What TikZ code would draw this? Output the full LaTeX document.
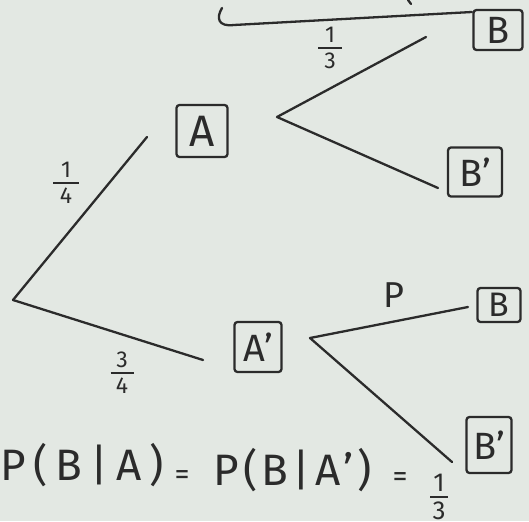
\documentclass[tikz,border=0pt]{standalone}
\usepackage{fontspec}
\setmainfont{Fira Sans}
\definecolor{bg}{HTML}{E3E8E3}
\definecolor{ink}{HTML}{2B2B2B}
\tikzset{
  ln/.style={draw=ink, line width=2.3pt, line cap=round, line join=round},
  lbox/.style={draw=ink, line width=2.3pt, rounded corners=3pt, inner sep=0pt, text=ink,
    font=\fontsize{38}{38}\selectfont},
  fr/.style={text=ink, inner sep=0pt, font=\fontsize{23}{23}\selectfont},
  eq/.style={text=ink, inner sep=0pt, anchor=base west, font=\fontsize{44}{44}\selectfont\addfontfeature{LetterSpace=18}},
  eqs/.style={text=ink, inner sep=0pt, anchor=base, font=\fontsize{30}{30}\selectfont}
}
\newcommand{\hfr}[3]{\vbox{\offinterlineskip\halign{\hfil##\hfil\cr #2\cr\noalign{\kern4pt}\vrule width #1 height 2.2pt depth 0pt\cr\noalign{\kern4pt}#3\cr}}}
\begin{document}
\begin{tikzpicture}[x=1pt,y=-1pt]
\fill[bg] (0,0) rectangle (529,521);
\useasboundingbox (0,0) rectangle (529,521);
% boxes
\node[lbox, minimum width=51pt, minimum height=52pt, font=\fontsize{44}{44}\selectfont] (A) at (202,131) {A};
\node[lbox, minimum width=47pt, minimum height=50pt] (Ap) at (258,347) {A'};
\node[lbox, minimum width=49pt, minimum height=40pt] (B1) at (498,30) {B};
\node[lbox, minimum width=54pt, minimum height=49pt] (B1p) at (475,172) {B'};
\node[lbox, minimum width=43pt, minimum height=34pt, font=\fontsize{34}{34}\selectfont] (B2) at (499,305) {B};
\node[lbox, minimum width=45pt, minimum height=56pt] (B2p) at (489,445) {B'};
% coordinates
\coordinate (root) at (13,300);
\coordinate (aIn) at (147,137);
\coordinate (apIn) at (203,360);
\coordinate (jA) at (277,117);
\coordinate (b1In) at (426,37);
\coordinate (b1pIn) at (438,188);
\coordinate (jAp) at (310,338);
\coordinate (b2In) at (468,307);
\coordinate (b2pIn) at (452,462);
% connectors
\draw[ln] (root) -- (aIn);
\draw[ln] (root) -- (apIn);
\draw[ln] (b1In) -- (jA) -- (b1pIn);
\draw[ln] (b2In) -- (jAp) -- (b2pIn);
% top partial curve
\coordinate (tc1) at (222,8);
\coordinate (tc2) at (472,12);
\draw[ln] (tc1) .. controls (216,18) and (218,27) .. (234,25) -- (tc2);
\coordinate (tm1) at (408,0);
\coordinate (tm2) at (411,4);
\draw[ln] (tm1) -- (tm2);
% branch labels
\node[fr] (f13) at (330,48) {\hfr{24pt}{1}{3}};
\node[fr] (f14) at (66,183) {\hfr{26pt}{1}{4}};
\node[fr] (f34) at (122,373) {\hfr{23pt}{3}{4}};
\node[text=ink, inner sep=0pt, font=\fontsize{36}{36}\selectfont] (p) at (394,295) {P};
% equation
\node[eq] (e1) at (0,480) {P(B|A)};
\node[eqs] (e2) at (182,484) {=};
\node[eq, font=\fontsize{44}{44}\selectfont\addfontfeature{LetterSpace=10}] (e3) at (213,485) {P(B|A')};
\node[eqs] (e4) at (400,486) {=};
\node[fr, font=\fontsize{26}{26}\selectfont] (e5) at (439,497) {\hfr{18pt}{1}{3}};
\end{tikzpicture}
\end{document}
